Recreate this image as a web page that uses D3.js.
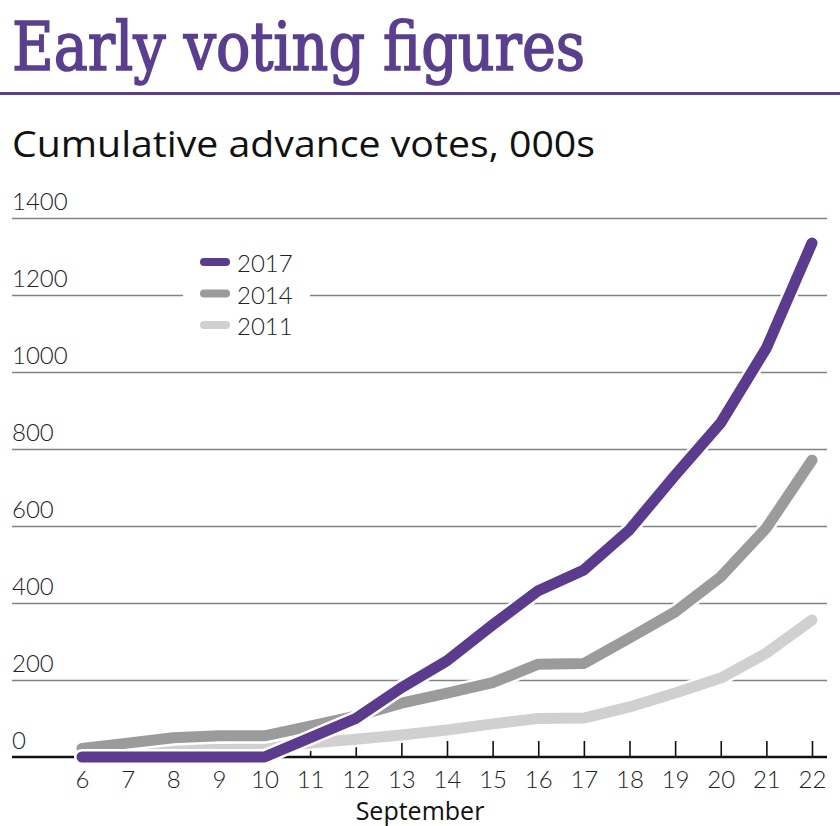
<!DOCTYPE html>
<html><head><meta charset="utf-8">
<script src="https://cdn.jsdelivr.net/npm/d3@7"></script>
<style>
html,body{margin:0;padding:0;background:#fff;}
svg{display:block;}
</style></head>
<body>
<svg id="chart" width="840" height="826"></svg>
<script>
const days = [6,7,8,9,10,11,12,13,14,15,16,17,18,19,20,21,22];
const v2017 = [0,0,0,0,0,50,100,180,250,343,432,486,590,732,868,1062,1335];
const v2014 = [22,36,50,55,55,80,106,140,166,193,241,243,309,377,468,595,771];
const v2011 = [6,10,18,20,22,36,46,57,70,86,100,101,130,166,205,270,356];
const yTicks = [0,200,400,600,800,1000,1200,1400];
const seriesNames = ["2011","2014","2017"];
const seriesValues = [v2011, v2014, v2017];
const seriesColors = ["#d0d0d0","#9b9b9b","#5a3b8e"];

const svg = d3.select("#chart");
const x = d3.scaleLinear().domain([6,22]).range([82,812]);
const y = d3.scaleLinear().domain([0,1400]).range([757,218]);
const left = 12, right = 827;

// Title
svg.append("text").attr("x",12).attr("y",70)
  .attr("font-family","'DejaVu Serif Condensed','DejaVu Serif',serif")
  .attr("font-size",68).attr("fill","#5b3f8f")
  .attr("stroke","#5b3f8f").attr("stroke-width",1.6)
  .attr("textLength",573).attr("lengthAdjust","spacingAndGlyphs")
  .text("Early voting figures");
svg.append("rect").attr("x",0).attr("y",92).attr("width",840).attr("height",3).attr("fill","#5b3f8f");

// Subtitle
svg.append("text").attr("x",12).attr("y",157)
  .attr("font-family","'Open Sans',sans-serif")
  .attr("font-size",36).attr("fill","#111")
  .attr("textLength",583).attr("lengthAdjust","spacingAndGlyphs")
  .text("Cumulative advance votes, 000s");

// Gridlines + y labels
const gy = svg.append("g").attr("transform",`translate(${right},0)`)
  .call(d3.axisLeft(y).tickValues(yTicks).tickSize(right-left).tickFormat(d3.format("d")));
gy.select(".domain").remove();
gy.selectAll(".tick line").attr("stroke","#7d8584").attr("stroke-width",1.6);
gy.selectAll(".tick text")
  .attr("x",-(right-left)).attr("dy",-9).attr("text-anchor","start")
  .attr("font-family","Lato,sans-serif").attr("font-weight",300)
  .attr("font-size",24).attr("fill","#222");
gy.selectAll(".tick").filter(d=>d===0).select("line").remove();

// X axis ticks
const gx = svg.append("g").attr("transform",`translate(0,${y(0)})`)
  .call(d3.axisBottom(x).tickValues(days).tickSize(-16).tickFormat(d3.format("d")));
gx.select(".domain").remove();
gx.selectAll(".tick line").attr("stroke","#111").attr("stroke-width",1.6);
gx.selectAll(".tick text").attr("y",31).attr("dy",0)
  .attr("font-family","Lato,sans-serif").attr("font-weight",300)
  .attr("font-size",24).attr("fill","#222");

svg.append("text").attr("x",420).attr("y",820).attr("text-anchor","middle")
  .attr("font-family","'Open Sans',sans-serif").attr("font-size",25).attr("fill","#111")
  .text("September");

// Legend background
svg.append("rect").attr("x",183).attr("y",245).attr("width",127).attr("height",95).attr("fill","#fff");

// Lines
const line = d3.line().x((d,i)=>x(days[i])).y(d=>y(d));
const lines = svg.append("g");
seriesValues.forEach((vals,k)=>{
  lines.append("path").datum(vals).attr("d",line)
    .attr("fill","none").attr("stroke","#fff").attr("stroke-width",16)
    .attr("stroke-linejoin","round").attr("stroke-linecap","round");
  lines.append("path").datum(vals).attr("d",line)
    .attr("fill","none").attr("stroke",seriesColors[k]).attr("stroke-width",11)
    .attr("stroke-linejoin","round").attr("stroke-linecap","round");
});

// Baseline
svg.append("line").attr("x1",left).attr("x2",right).attr("y1",y(0)).attr("y2",y(0))
  .attr("stroke","#111").attr("stroke-width",2.5);
lines.raise();

// Legend
const legendOrder = [2,1,0];
legendOrder.forEach((k,i)=>{
  const ly = 262 + i*31.5;
  svg.append("line").attr("x1",204).attr("x2",226).attr("y1",ly).attr("y2",ly)
    .attr("stroke",seriesColors[k]).attr("stroke-width",8).attr("stroke-linecap","round");
  svg.append("text").attr("x",237).attr("y",ly+10)
    .attr("font-family","Lato,sans-serif").attr("font-weight",300)
    .attr("font-size",24).attr("fill","#222").text(seriesNames[k]);
});
</script>
</body></html>
